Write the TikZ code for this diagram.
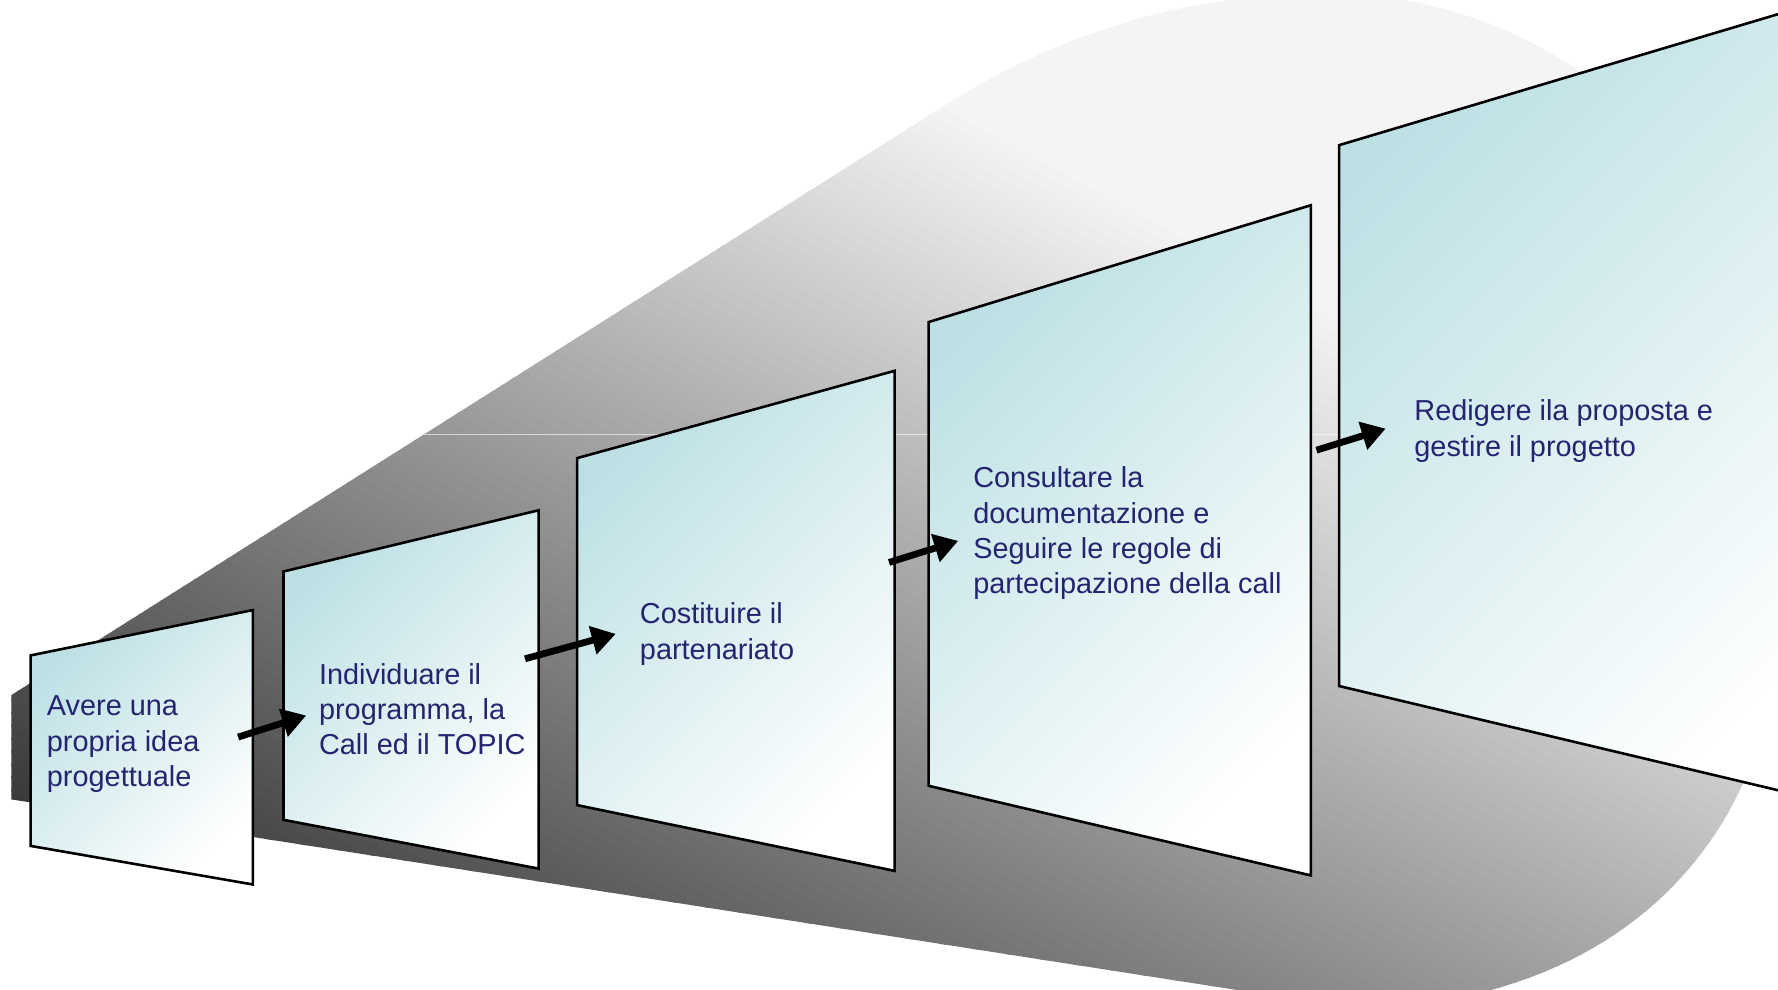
\documentclass[tikz,border=0pt]{standalone}
\usepackage{fontspec}
\setmainfont{Liberation Sans}
\usetikzlibrary{arrows.meta}
\definecolor{panelteal}{RGB}{188,224,228}
\definecolor{textnavy}{RGB}{36,36,112}
\tikzset{
  panel/.style={draw=black, line width=1.3pt, line join=miter, top color=panelteal, bottom color=white, shading angle=45},
  label/.style={anchor=base west, inner sep=0pt, align=left, text=textnavy, font=\fontsize{14.5}{17.7}\selectfont},
  flowarrow/.style={line width=3.4pt, -{Triangle[length=12pt,width=14pt]}}
}
\begin{document}
\begin{tikzpicture}[x=0.02cm,y=-0.02cm]
\useasboundingbox (0,0) rectangle (1568,873);
\clip (0,0) rectangle (1568,873);
% funnel background with gradient
\begin{scope}
  \clip (10,613) -- (830,95) .. controls (940,25) and (1060,-10) .. (1190,-5)
        .. controls (1420,5) and (1600,220) .. (1590,450)
        .. controls (1585,560) and (1560,650) .. (1525,715)
        .. controls (1460,830) and (1340,885) .. (1200,890)
        -- (10,705) -- cycle;
  \foreach \i in {-80,...,75} {
    \pgfmathsetmacro\sa{\i*10}
    \pgfmathsetmacro\sb{\i*10+12}
    \pgfmathsetmacro\g{max(0.05,min(0.955,(60+0.2*(\sa+5+606.5))/255))}
    \definecolor{stripc}{gray}{\g}
    \fill[stripc] ({\sa*0.474-50*0.880},{-\sa*0.880-50*0.474})
      -- ({\sb*0.474-50*0.880},{-\sb*0.880-50*0.474})
      -- ({\sb*0.474+1900*0.880},{-\sb*0.880+1900*0.474})
      -- ({\sa*0.474+1900*0.880},{-\sa*0.880+1900*0.474}) -- cycle;
  }
  \draw[white, opacity=0.6, line width=0.8pt] (374,383) -- (1600,383);
\end{scope}
% panels
\shade[panel] (27,578) -- (223,538) -- (223,780) -- (27,746) -- cycle;
\shade[panel] (250,504) -- (475,450) -- (475,766) -- (250,723) -- cycle;
\shade[panel] (509,404) -- (789,327) -- (789,768) -- (509,710) -- cycle;
\shade[panel] (819,284) -- (1156,181) -- (1156,772) -- (819,693) -- cycle;
\shade[panel] (1181,128) -- (1640,-9) -- (1640,714) -- (1181,605) -- cycle;
% labels (anchor at baseline of last line)
\node[label] (t1) at (41,693.4) {Avere una\\propria idea\\progettuale};
\node[label] (t2) at (281,665.4) {Individuare il\\programma, la\\Call ed il TOPIC};
\node[label] (t3) at (564,581.2) {Costituire il\\partenariato};
\node[label] (t4) at (858,523.6) {Consultare la\\documentazione e\\Seguire le regole di\\partecipazione della call};
\node[label] (t5) at (1247,402.2) {Redigere ila proposta e\\gestire il progetto};
% arrows
\coordinate (a1s) at (210,650); \coordinate (a1e) at (270,631);
\coordinate (a2s) at (463,581); \coordinate (a2e) at (543,559);
\coordinate (a3s) at (784,496); \coordinate (a3e) at (845,477);
\coordinate (a4s) at (1161,397); \coordinate (a4e) at (1222,378);
\draw[flowarrow] (a1s) -- (a1e);
\draw[flowarrow] (a2s) -- (a2e);
\draw[flowarrow] (a3s) -- (a3e);
\draw[flowarrow] (a4s) -- (a4e);
\end{tikzpicture}
\end{document}
